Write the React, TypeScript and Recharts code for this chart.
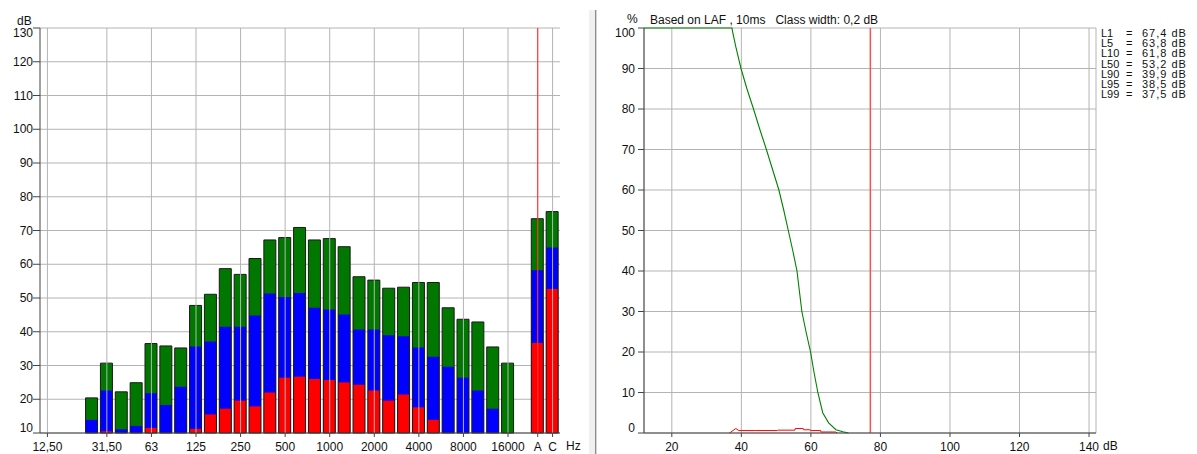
import React from "react";
import { ComposedChart, BarChart, Bar, Line, XAxis, YAxis, CartesianGrid, ReferenceLine } from "recharts";

const FONT = '"Liberation Sans", Arial, sans-serif';

// third-octave bands + broadband A / C
const bands = [
  "12,50", "16", "20", "25", "31,50", "40", "50", "63", "80", "100", "125", "160", "200", "250", "315", "400",
  "500", "630", "800", "1000", "1250", "1600", "2000", "2500", "3150", "4000", "5000", "6300", "8000", "10000",
  "12500", "16000", "20000", "A", "C",
];
const labeledBands = ["12,50", "31,50", "63", "125", "250", "500", "1000", "2000", "4000", "8000", "16000", "A", "C"];

const maxLevel = [
  null, null, null, 20.4, 30.7, 22.2, 24.9, 36.5, 35.8, 35.2, 47.8, 51.1, 58.7, 57.0, 61.7, 67.2,
  67.9, 70.9, 67.2, 67.6, 65.2, 56.3, 55.3, 52.9, 53.2, 54.6, 54.6, 47.1, 43.7, 42.9,
  35.5, 30.7, null, 73.5, 75.6,
];
const midLevel = [
  null, null, null, 13.9, 22.6, 11.1, 12.1, 21.8, 18.3, 23.7, 35.6, 37.1, 41.5, 41.5, 44.8, 51.3,
  50.3, 51.5, 47.1, 46.6, 45.1, 40.7, 40.7, 39.0, 38.7, 35.3, 32.6, 29.6, 26.4, 22.6,
  17.2, null, null, 58.2, 65.0,
];
const minLevel = [
  null, null, null, null, 10.5, null, null, 11.5, null, null, 11.2, 15.5, 17.2, 19.6, 17.9, 22.0,
  26.4, 26.7, 26.0, 25.7, 25.0, 24.3, 22.6, 19.6, 21.4, 17.6, 13.9, null, null, null,
  null, null, null, 36.7, 52.7,
];
const levelTicks = [10, 20, 30, 40, 50, 60, 70, 80, 90, 100, 110, 120, 130];
const markerBand = "A";

// cumulative distribution (green) and class distribution (red)
const cumDb = [12, 37.3, 37.5, 38.0, 38.5, 39.2, 39.9, 41.6, 43.5, 45.3, 47.2, 49.0, 50.8, 52.2, 53.5, 54.8, 56.0, 56.7, 57.4, 58.6, 59.9, 60.9, 62.0, 63.4, 65.1, 67.2, 69.2, 70.8];
const cumPct = [100, 100, 99, 97, 95, 92.5, 90, 85, 80, 75, 70, 65, 60, 55, 50, 45, 40, 35, 30, 25, 20, 15, 10, 5, 2.5, 0.8, 0.3, 0];
const densDb = [36.6, 37.6, 38.4, 39.3, 44.0, 50.3, 50.4, 55.4, 55.5, 57.8, 57.9, 59.8, 59.9, 62.8, 62.9, 67.1, 67.6];
const densPct = [0, 0.6, 1.1, 0.6, 0.6, 0.6, 0.7, 0.7, 1.1, 1.1, 0.8, 0.8, 0.6, 0.6, 0.25, 0.25, 0];
const pctTicks = [0, 10, 20, 30, 40, 50, 60, 70, 80, 90, 100];
const dbTicks = [20, 40, 60, 80, 100, 120, 140];
const markerDb = 77.1;

const statNames = ["L1", "L5", "L10", "L50", "L90", "L95", "L99"];
const statValues = ["67,4", "63,8", "61,8", "53,2", "39,9", "38,5", "37,5"];

const bandRows = bands.map((b, i) => ({ band: b, max: maxLevel[i], mid: midLevel[i], min: minLevel[i] }));
const cumRows = cumDb.map((d, i) => ({ db: d, pct: cumPct[i] }));
const densRows = densDb.map((d, i) => ({ db: d, pct: densPct[i] }));

const GRID = "#b4b4b4";
const AXIS = "#444";

function ValueTick(props: any) {
  const { x, y, payload, top, bottom } = props;
  const v = payload.value;
  const dy = v === top ? 5 : v === bottom ? -5 : 0;
  return (
    <text x={x} y={y + dy} textAnchor="end" dominantBaseline="central" fontSize={12} fill="#111" fontFamily={FONT}>
      {v}
    </text>
  );
}

function BandTick(props: any) {
  const { x, y, payload } = props;
  if (!labeledBands.includes(payload.value)) return <g />;
  return (
    <g>
      <line x1={x} x2={x} y1={y - 9} y2={y - 5} stroke={AXIS} />
      <text x={x} y={y} dy="0.71em" textAnchor="middle" fontSize={12} fill="#111" fontFamily={FONT}>
        {payload.value}
      </text>
    </g>
  );
}

function DbTick(props: any) {
  const { x, y, payload } = props;
  return (
    <g>
      <line x1={x} x2={x} y1={y - 9} y2={y - 5} stroke={AXIS} />
      <text x={x} y={y} dy="0.71em" textAnchor="middle" fontSize={12} fill="#111" fontFamily={FONT}>
        {payload.value}
      </text>
    </g>
  );
}

const textStyle: React.CSSProperties = { position: "absolute", fontFamily: FONT, fontSize: 12, color: "#111", whiteSpace: "pre", lineHeight: "12px" };

export default function App() {
  return (
    <div style={{ position: "absolute", left: 0, top: 0, width: 1197, height: 454, background: "#fff", overflow: "hidden" }}>
      <div style={{ position: "absolute", left: 0, top: 0 }}>
        <BarChart width={600} height={454} data={bandRows} margin={{ top: 28, right: 40, bottom: 0, left: 0 }} barSize={12} barGap={-12}>
          <CartesianGrid vertical={false} stroke={GRID} />
          {labeledBands
            .filter((b) => b !== markerBand)
            .map((b) => (
              <ReferenceLine key={b} x={b} stroke={GRID} />
            ))}
          <XAxis dataKey="band" interval={0} height={21} tickSize={3} tickMargin={6} tickLine={false} tick={<BandTick />} axisLine={{ stroke: AXIS }} />
          <XAxis xAxisId="top" dataKey="band" orientation="top" height={0} tick={false} tickLine={false} axisLine={{ stroke: AXIS }} />
          <YAxis domain={[10, 130]} ticks={levelTicks} width={40} tickSize={7} tickMargin={0} tick={<ValueTick top={130} bottom={10} />} tickLine={{ stroke: AXIS }} axisLine={{ stroke: AXIS }} />
          <YAxis yAxisId="right" orientation="right" type="number" domain={[0, 1]} width={0} tick={false} tickLine={false} axisLine={{ stroke: AXIS }} />
          <Bar dataKey="max" fill="#007800" isAnimationActive={false} />
          <Bar dataKey="mid" fill="#0000ff" isAnimationActive={false} />
          <Bar dataKey="min" fill="#ff0000" isAnimationActive={false} />
          <Bar dataKey="max" fill="none" stroke="#1a1a1a" strokeWidth={1} isAnimationActive={false} />
          <ReferenceLine x={markerBand} stroke="#ff3030" strokeWidth={1.2} />
        </BarChart>
      </div>

      <div style={{ ...textStyle, left: 17, top: 15 }}>dB</div>
      <div style={{ ...textStyle, left: 566, top: 440 }}>Hz</div>

      {/* window splitter */}
      <div style={{ position: "absolute", left: 589, top: 10, width: 6, height: 444, background: "#f0f0f0" }} />
      <div style={{ position: "absolute", left: 595, top: 10, width: 1, height: 444, background: "#8c8c8c" }} />
      <div style={{ position: "absolute", left: 596, top: 10, width: 1, height: 444, background: "#d4d4d4" }} />

      <div style={{ position: "absolute", left: 600, top: 0 }}>
        <ComposedChart width={597} height={454} margin={{ top: 28, right: 101, bottom: 0, left: 0 }}>
          <CartesianGrid stroke={GRID} />
          <XAxis type="number" dataKey="db" domain={[12, 142]} ticks={dbTicks} allowDataOverflow height={21} tickSize={3} tickMargin={6} tickLine={false} tick={<DbTick />} axisLine={{ stroke: AXIS }} />
          <XAxis xAxisId="top" type="number" domain={[12, 142]} orientation="top" height={0} tick={false} tickLine={false} axisLine={{ stroke: AXIS }} />
          <YAxis type="number" domain={[0, 100]} ticks={pctTicks} width={44} tickSize={6} tickMargin={3} tick={<ValueTick top={100} bottom={0} />} tickLine={{ stroke: AXIS }} axisLine={{ stroke: AXIS }} />
          <YAxis yAxisId="right" orientation="right" type="number" domain={[0, 1]} width={0} tick={false} tickLine={false} axisLine={{ stroke: AXIS }} />
          <ReferenceLine x={markerDb} stroke="#ff5050" strokeWidth={1.5} />
          <Line data={densRows} dataKey="pct" type="linear" stroke="#ff0000" strokeWidth={1} dot={false} isAnimationActive={false} />
          <Line data={cumRows} dataKey="pct" type="linear" stroke="#008000" strokeWidth={1.1} dot={false} isAnimationActive={false} />
        </ComposedChart>
      </div>

      <div style={{ ...textStyle, left: 627, top: 13 }}>%</div>
      <div style={{ ...textStyle, left: 650, top: 14 }}>{"Based on LAF , 10ms   Class width: 0,2 dB"}</div>
      <div style={{ ...textStyle, left: 1103, top: 440 }}>dB</div>

      <div style={{ position: "absolute", left: 1101, top: 28, fontFamily: FONT, fontSize: 11, color: "#111", lineHeight: "10.2px" }}>
        {statNames.map((n, i) => (
          <div key={n} style={{ position: "relative", height: 10.2, width: 94 }}>
            <span style={{ position: "absolute", left: 0 }}>{n}</span>
            <span style={{ position: "absolute", left: 25 }}>=</span>
            <span style={{ position: "absolute", left: 41, letterSpacing: 1 }}>{statValues[i] + " dB"}</span>
          </div>
        ))}
      </div>
    </div>
  );
}
